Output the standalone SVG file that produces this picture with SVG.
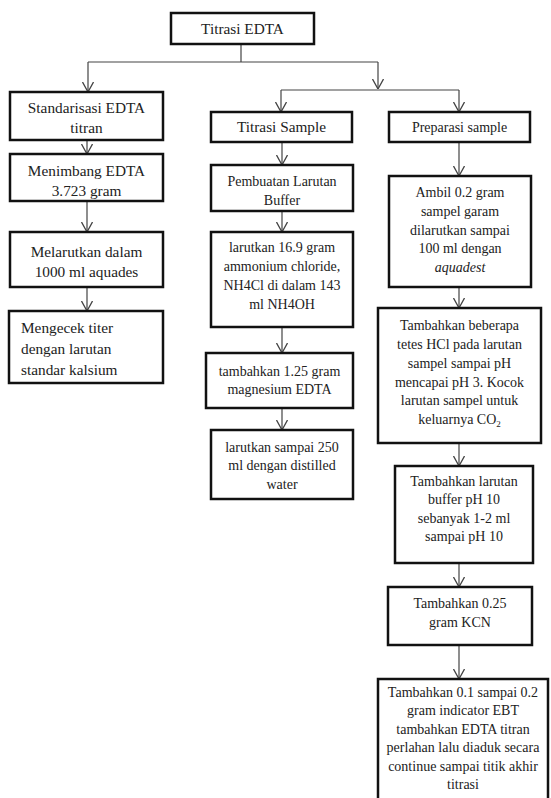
<svg xmlns="http://www.w3.org/2000/svg" width="551" height="798" viewBox="0 0 551 798">
<style>
.box{fill:#fff;stroke:#111;stroke-width:2.5}
.t{font-family:"Liberation Serif","Times New Roman",serif;font-size:14px;fill:#222;text-anchor:middle}
.tl{font-size:15.3px}
.c{fill:none;stroke:#444;stroke-width:1.2}
</style>
<defs>
<marker id="ah" viewBox="0 0 10 12" refX="10" refY="6" markerWidth="10" markerHeight="12" orient="auto" markerUnits="userSpaceOnUse">
<path d="M0,0.5 L10,6 L0,11.5" fill="none" stroke="#444" stroke-width="1.3"/>
</marker>
</defs>
<rect width="551" height="798" fill="#fff"/>
<g id="connectors">
<path class="c" d="M241,44 V62 M88,62 H378"/>
<path class="c" d="M88,62 V92" marker-end="url(#ah)"/>
<path class="c" d="M378,62 V89" marker-end="url(#ah)"/>
<path class="c" d="M281,90 H459"/>
<path class="c" d="M281,90 V112" marker-end="url(#ah)"/>
<path class="c" d="M459,90 V112" marker-end="url(#ah)"/>
<path class="c" d="M87,140 V154" marker-end="url(#ah)"/>
<path class="c" d="M87,201 V232" marker-end="url(#ah)"/>
<path class="c" d="M87,287 V311" marker-end="url(#ah)"/>
<path class="c" d="M282,142 V165" marker-end="url(#ah)"/>
<path class="c" d="M282,211 V232" marker-end="url(#ah)"/>
<path class="c" d="M282,327 V353" marker-end="url(#ah)"/>
<path class="c" d="M282,408 V430" marker-end="url(#ah)"/>
<path class="c" d="M459,142 V176" marker-end="url(#ah)"/>
<path class="c" d="M459,287 V308" marker-end="url(#ah)"/>
<path class="c" d="M459,443 V466" marker-end="url(#ah)"/>
<path class="c" d="M459,563 V587" marker-end="url(#ah)"/>
<path class="c" d="M459,645 V679" marker-end="url(#ah)"/>
</g>
<g id="n-titrasi-edta">
<rect class="box" x="171" y="13" width="143" height="31"/>
<text class="t tl" x="242.5" y="34">Titrasi EDTA</text>
</g>
<g id="n-standarisasi">
<rect class="box" x="10" y="92" width="153" height="48"/>
<text class="t tl" x="86.5" y="113">Standarisasi EDTA</text>
<text class="t tl" x="86.5" y="133">titran</text>
</g>
<g id="n-menimbang">
<rect class="box" x="10" y="154" width="153" height="47"/>
<text class="t tl" x="86.5" y="176">Menimbang EDTA</text>
<text class="t tl" x="86.5" y="196">3.723 gram</text>
</g>
<g id="n-melarutkan">
<rect class="box" x="10" y="232" width="153" height="55"/>
<text class="t tl" x="86.5" y="257">Melarutkan dalam</text>
<text class="t tl" x="86.5" y="277">1000 ml aquades</text>
</g>
<g id="n-mengecek">
<rect class="box" x="9" y="311" width="154" height="72"/>
<text class="t tl" x="21" y="333" text-anchor="start" style="text-anchor:start">Mengecek titer</text>
<text class="t tl" x="21" y="354" style="text-anchor:start">dengan larutan</text>
<text class="t tl" x="21" y="375" style="text-anchor:start">standar kalsium</text>
</g>
<g id="n-titrasi-sample">
<rect class="box" x="211" y="112" width="141" height="30"/>
<text class="t tl" x="281.5" y="132">Titrasi Sample</text>
</g>
<g id="n-pembuatan">
<rect class="box" x="211" y="165" width="142" height="46"/>
<text class="t" x="282" y="186">Pembuatan Larutan</text>
<text class="t" x="282" y="205">Buffer</text>
</g>
<g id="n-larutkan-nh4cl">
<rect class="box" x="211" y="232" width="142" height="95"/>
<text class="t" x="282" y="252">larutkan 16.9 gram</text>
<text class="t" x="282" y="271">ammonium chloride,</text>
<text class="t" x="282" y="290">NH4Cl di dalam 143</text>
<text class="t" x="282" y="309">ml NH4OH</text>
</g>
<g id="n-tambahkan-mg">
<rect class="box" x="206" y="353" width="147" height="55"/>
<text class="t" x="279.5" y="376">tambahkan 1.25 gram</text>
<text class="t" x="279.5" y="394">magnesium EDTA</text>
</g>
<g id="n-larutkan-250">
<rect class="box" x="211" y="430" width="142" height="69"/>
<text class="t" x="282" y="452">larutkan sampai 250</text>
<text class="t" x="282" y="470">ml dengan distilled</text>
<text class="t" x="282" y="489">water</text>
</g>
<g id="n-preparasi">
<rect class="box" x="389" y="112" width="141" height="30"/>
<text class="t" x="459.5" y="132">Preparasi sample</text>
</g>
<g id="n-ambil">
<rect class="box" x="389" y="176" width="142" height="111"/>
<text class="t" x="460" y="197">Ambil 0.2 gram</text>
<text class="t" x="460" y="216">sampel garam</text>
<text class="t" x="460" y="235">dilarutkan sampai</text>
<text class="t" x="460" y="253">100 ml dengan</text>
<text class="t" x="460" y="272" font-style="italic">aquadest</text>
</g>
<g id="n-hcl">
<rect class="box" x="378" y="308" width="163" height="135"/>
<text class="t" x="459.5" y="330">Tambahkan beberapa</text>
<text class="t" x="459.5" y="349">tetes HCl pada larutan</text>
<text class="t" x="459.5" y="368">sampel sampai pH</text>
<text class="t" x="459.5" y="387">mencapai pH 3. Kocok</text>
<text class="t" x="459.5" y="405">larutan sampel untuk</text>
<text class="t" x="459.5" y="424">keluarnya CO<tspan font-size="9" dy="3">2</tspan></text>
</g>
<g id="n-buffer">
<rect class="box" x="395" y="466" width="138" height="97"/>
<text class="t" x="464" y="486">Tambahkan larutan</text>
<text class="t" x="464" y="504">buffer pH 10</text>
<text class="t" x="464" y="523">sebanyak 1-2 ml</text>
<text class="t" x="464" y="541">sampai pH 10</text>
</g>
<g id="n-kcn">
<rect class="box" x="388" y="587" width="144" height="58"/>
<text class="t" x="460" y="608">Tambahkan 0.25</text>
<text class="t" x="460" y="627">gram KCN</text>
</g>
<g id="n-ebt">
<rect class="box" x="378" y="679" width="170" height="130"/>
<text class="t" x="463" y="697">Tambahkan 0.1 sampai 0.2</text>
<text class="t" x="463" y="715">gram indicator EBT</text>
<text class="t" x="463" y="734">tambahkan EDTA titran</text>
<text class="t" x="463" y="752">perlahan lalu diaduk secara</text>
<text class="t" x="463" y="771">continue sampai titik akhir</text>
<text class="t" x="463" y="789">titrasi</text>
</g>
</svg>
